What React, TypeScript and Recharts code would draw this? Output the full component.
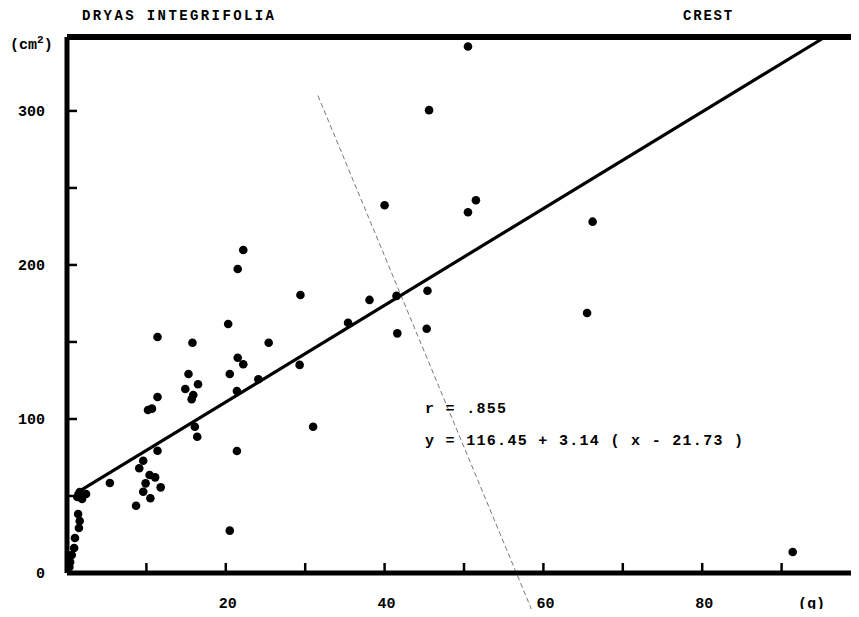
import { ScatterChart, Scatter, XAxis, YAxis, ReferenceLine } from "recharts";

// dry weight (g) and leaf area (cm2)
const massG = [
  50.5, 45.6, 40.0, 51.5, 50.5, 66.2, 65.5, 91.4,
  22.2, 21.5, 29.4, 20.3, 11.4, 15.8, 25.4, 21.5, 22.2, 29.3,
  35.4, 38.1, 41.5, 45.4, 41.6, 45.3, 31.0,
  15.3, 20.5, 24.1, 11.4, 14.9, 16.5, 15.9, 15.7, 10.2, 10.7, 21.4,
  16.1, 16.4, 11.4, 21.4, 9.6, 9.1, 10.4, 11.1, 9.9, 11.8, 9.6, 10.5, 8.7, 5.4, 20.5,
  1.6, 2.4, 1.9, 1.3, 1.4, 1.6, 1.5, 1.0, 0.9, 0.6, 0.4, 0.3,
];
const areaCm2 = [
  341.8, 300.5, 238.8, 242.0, 234.2, 228.1, 168.8, 13.6,
  209.7, 197.4, 180.5, 161.7, 153.2, 149.5, 149.5, 139.8, 135.5, 135.1,
  162.5, 177.3, 179.9, 183.3, 155.6, 158.6, 95.0,
  129.2, 129.2, 125.8, 114.3, 119.5, 122.5, 115.6, 112.8, 105.8, 106.7, 118.2,
  95.0, 88.5, 79.4, 79.2, 72.9, 68.0, 63.6, 62.1, 58.2, 55.6, 52.8, 48.5, 43.7, 58.4, 27.5,
  52.6, 51.3, 48.1, 49.4, 38.3, 33.8, 29.2, 22.7, 16.2, 11.7, 7.1, 3.9,
];

const xTicks = [0, 10, 20, 30, 40, 50, 60, 70, 80, 90];
const xLabels = [20, 40, 60, 80];
const yTicks = [0, 50, 100, 150, 200, 250, 300];
const yLabels = [0, 100, 200, 300];
const xDomain = [0, 100];
const yDomain = [0, 348];

// y = 116.45 + 3.14 (x - 21.73), r = .855
const fitMean = 21.73;
const fitIntercept = 116.45;
const fitSlope = 3.14;
const fitR = ".855";
const fitFrom = 1;

// stray pencil stroke on the original sheet
const pencilStroke = [
  { x: 31.6, y: 310 },
  { x: 58.9, y: -28.6 },
];

const points = massG.map((x, i) => ({ x, y: areaCm2[i] }));
const fitY = (x: number) => fitIntercept + fitSlope * (x - fitMean);
const fitTo = fitMean + (yDomain[1] - fitIntercept) / fitSlope;

const font = "'Liberation Mono', 'DejaVu Sans Mono', monospace";

const XTick = (props: any) => {
  const { x, y, payload } = props;
  const v = payload.value;
  return (
    <g>
      {v > 0 && <line x1={x} x2={x} y1={y} y2={y - 10} stroke="#000" strokeWidth={2.5} />}
      {xLabels.includes(v) && (
        <text x={x + 2} y={y + 31} textAnchor="middle" dominantBaseline="middle"
          fontFamily={font} fontWeight="bold" fontSize={15} fill="#000">
          {v}
        </text>
      )}
    </g>
  );
};

const YTick = (props: any) => {
  const { x, y, payload } = props;
  const v = payload.value;
  return (
    <g>
      {v > 0 && <line x1={x} x2={x + 10} y1={y} y2={y} stroke="#000" strokeWidth={2.5} />}
      {yLabels.includes(v) && (
        <text x={x - 22} y={y + 1} textAnchor="end" dominantBaseline="middle"
          fontFamily={font} fontWeight="bold" fontSize={15} fill="#000">
          {v}
        </text>
      )}
    </g>
  );
};

const Dot = (props: any) => <circle cx={props.cx} cy={props.cy} r={4.3} fill="#000" />;

const txt = (left: number, top: number, size: number, spacing: number): React.CSSProperties => ({
  position: "absolute",
  left,
  top,
  transform: "translateY(-50%)",
  fontFamily: font,
  fontWeight: "bold",
  fontSize: size,
  letterSpacing: spacing,
  lineHeight: 1,
  whiteSpace: "pre",
  color: "#000",
});

export default function App() {
  return (
    <div
      style={{
        position: "relative",
        width: 851,
        height: 609,
        marginBottom: -8,
        overflow: "hidden",
        background: "#fff",
      }}
    >
      <ScatterChart width={870} height={609} margin={{ top: 29, right: 17, bottom: 9, left: 0 }}>
        <XAxis
          type="number"
          dataKey="x"
          domain={xDomain}
          ticks={xTicks}
          interval={0}
          height={35}
          tickSize={0}
          tickMargin={0}
          tickLine={false}
          axisLine={{ stroke: "#000", strokeWidth: 5 }}
          tick={<XTick />}
          allowDataOverflow
        />
        <YAxis
          type="number"
          dataKey="y"
          domain={yDomain}
          ticks={yTicks}
          interval={0}
          width={59}
          tickSize={0}
          tickMargin={0}
          tickLine={false}
          axisLine={{ stroke: "#000", strokeWidth: 5 }}
          tick={<YTick />}
          allowDataOverflow
        />
        <ReferenceLine y={yDomain[1]} stroke="#000" strokeWidth={6} ifOverflow="visible" />
        <ReferenceLine
          segment={pencilStroke}
          stroke="#555"
          strokeWidth={0.8}
          strokeDasharray="5 3"
          ifOverflow="visible"
        />
        <ReferenceLine
          segment={[
            { x: fitFrom, y: fitY(fitFrom) },
            { x: fitTo, y: fitY(fitTo) },
          ]}
          stroke="#000"
          strokeWidth={3.2}
          ifOverflow="visible"
        />
        <Scatter data={points} fill="#000" shape={<Dot />} isAnimationActive={false} />
      </ScatterChart>

      <div style={txt(74, 8, 14, 2.4)}>DRYAS INTEGRIFOLIA</div>
      <div style={txt(675, 8, 14, 1.8)}>CREST</div>
      <div style={txt(2, 36, 15, 0)}>
        (cm<sup style={{ fontSize: 11 }}>2</sup>)
      </div>
      <div style={txt(790, 596, 15, 0)}>(g)</div>
      <div style={txt(417, 401, 15, 1.3)}>{`r = ${fitR}`}</div>
      <div style={txt(417, 433, 15, 1.3)}>
        {`y = ${fitIntercept} + ${fitSlope} ( x - ${fitMean} )`}
      </div>
    </div>
  );
}
